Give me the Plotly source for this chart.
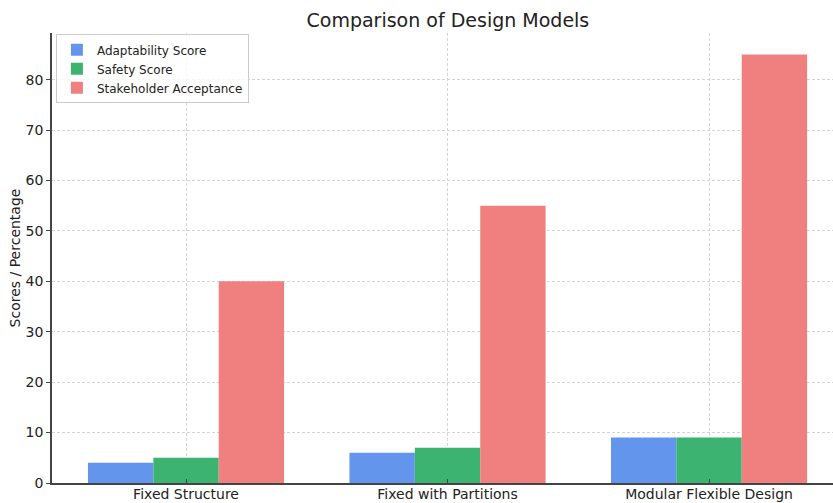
import plotly.graph_objects as go

# Design models and their scores
models = ["Fixed Structure", "Fixed with Partitions", "Modular Flexible Design"]
adaptability = [4, 6, 9]
safety = [5, 7, 9]
acceptance = [40, 55, 85]

series = [
    ("Adaptability Score", adaptability, "#6495ED"),
    ("Safety Score", safety, "#3CB371"),
    ("Stakeholder Acceptance", acceptance, "#F08080"),
]

fig = go.Figure()
for name, vals, color in series:
    fig.add_trace(go.Bar(
        x=models, y=vals, name=name,
        marker=dict(color=color, line=dict(width=0)),
    ))

font = "DejaVu Sans, sans-serif"
fig.update_layout(
    width=833, height=503,
    margin=dict(l=52, r=0, t=33, b=20, autoexpand=False),
    paper_bgcolor="white", plot_bgcolor="white",
    barmode="group", bargap=0.25, bargroupgap=0,
    font=dict(family=font, size=14, color="#222"),
    title=dict(text="Comparison of Design Models", x=0.5377, xanchor="center",
               y=0.96, yanchor="middle", font=dict(size=19, color="#222")),
    legend=dict(x=0.005, y=0.997, xanchor="left", yanchor="top",
                bgcolor="rgba(255,255,255,0.8)", bordercolor="#ccc", borderwidth=1,
                font=dict(size=12, color="#222"), tracegroupgap=0,
                itemwidth=30),
    showlegend=True,
)
fig.update_xaxes(
    range=[-0.5125, 2.474], automargin=False,
    showline=True, linecolor="#444", linewidth=1.5,
    showgrid=True, gridcolor="#d4d4d4", griddash="3px,2px", gridwidth=1,
    ticks="inside", ticklen=4, tickcolor="#444",
    ticklabelstandoff=-3,
    tickfont=dict(size=14, color="#222"),
)
fig.update_yaxes(
    range=[0, 89.25], dtick=10, automargin=False,
    showline=True, linecolor="#444", linewidth=1.5,
    showgrid=True, gridcolor="#d4d4d4", griddash="3px,2px", gridwidth=1,
    zeroline=False,
    ticks="outside", ticklen=4, tickcolor="#444",
    tickfont=dict(size=14, color="#222"),
    title=dict(text="Scores / Percentage", font=dict(size=14, color="#222"), standoff=2),
)

fig.write_html("out.html")
